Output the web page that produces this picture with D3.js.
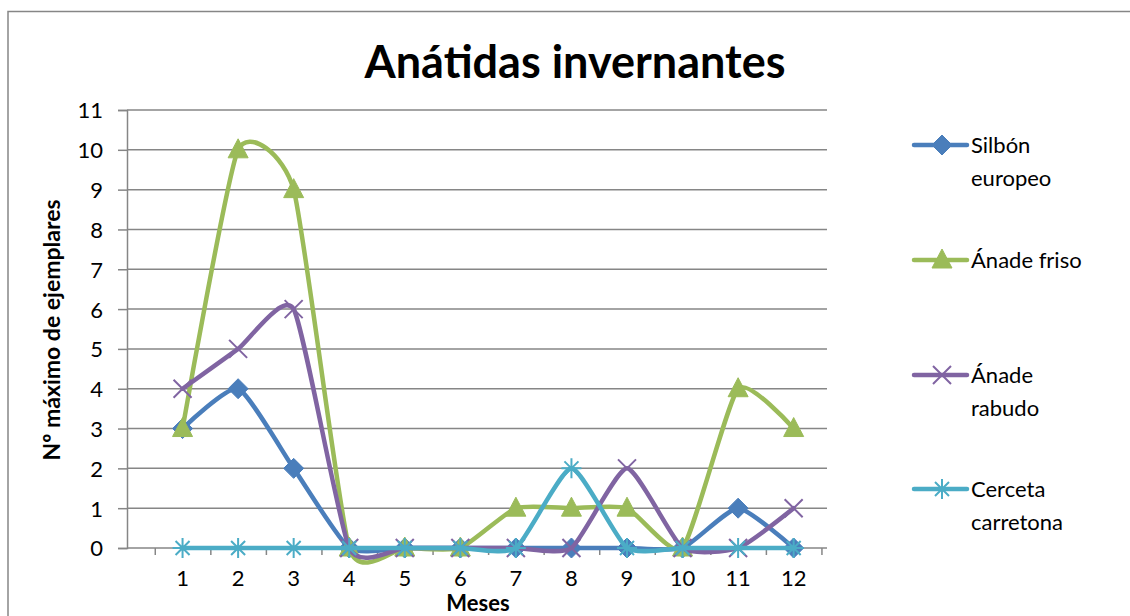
<!DOCTYPE html>
<html>
<head>
<meta charset="utf-8">
<script src="https://cdn.jsdelivr.net/npm/d3@7"></script>
<style>
  body { margin: 0; background: #fff; }
  text { font-family: Lato, "Open Sans", sans-serif; fill: #000; }
</style>
</head>
<body>
<script>
const width = 1130
const height = 616

// data
const months = [1, 2, 3, 4, 5, 6, 7, 8, 9, 10, 11, 12]
const silbon = [3, 4, 2, 0, 0, 0, 0, 0, 0, 0, 1, 0]
const friso = [3, 10, 9, 0, 0, 0, 1, 1, 1, 0, 4, 3]
const rabudo = [4, 5, 6, 0, 0, 0, 0, 0, 2, 0, 0, 1]
const cerceta = [0, 0, 0, 0, 0, 0, 0, 2, 0, 0, 0, 0]
const yTicks = d3.range(0, 12)

const series = [
    { name: ["Silbón", "europeo"], values: silbon, color: "#4a7ebb", marker: "diamond" },
    { name: ["Ánade friso"], values: friso, color: "#9bbb59", marker: "triangle" },
    { name: ["Ánade", "rabudo"], values: rabudo, color: "#8064a2", marker: "x" },
    { name: ["Cerceta", "carretona"], values: cerceta, color: "#4bacc6", marker: "star" }
]

const plot = { left: 127, right: 827, top: 110, bottom: 548 }

const svg = d3.select("body").append("svg")
    .attr("width", width)
    .attr("height", height)

// outer chart frame
svg.append("rect")
    .attr("x", 8).attr("y", 11.5)
    .attr("width", 1140).attr("height", 640)
    .attr("fill", "none").attr("stroke", "#868686").attr("stroke-width", 1.5)

const x = d3.scaleLinear().domain([0, 12.6]).range([plot.left, plot.right])
const y = d3.scaleLinear().domain([0, 11]).range([plot.bottom, plot.top])

// gridlines
svg.append("g")
    .selectAll("line")
    .data(yTicks.slice(1))
    .join("line")
    .attr("x1", plot.left).attr("x2", plot.right)
    .attr("y1", d => y(d)).attr("y2", d => y(d))
    .attr("stroke", "#868686").attr("stroke-width", 1.5)

// y axis
const yAxis = svg.append("g")
    .attr("transform", `translate(${plot.left},0)`)
    .call(d3.axisLeft(y).tickValues(yTicks).tickSize(9).tickPadding(6))
yAxis.select(".domain").attr("stroke", "#868686").attr("stroke-width", 1.5)
yAxis.selectAll(".tick line").attr("stroke", "#868686").attr("stroke-width", 1.5)
yAxis.selectAll(".tick text").style("font-size", "22px").attr("fill", "#000")
    .attr("x", -24).attr("dy", "0.36em")

// x axis: labels on months, ticks between them
const xAxis = svg.append("g")
    .attr("transform", `translate(0,${plot.bottom})`)
    .call(d3.axisBottom(x).tickValues(d3.range(0.5, 13, 1)).tickSize(7).tickFormat(""))
xAxis.select(".domain").attr("d", `M${plot.left},0H${plot.right}`)
    .attr("stroke", "#868686").attr("stroke-width", 1.5)
xAxis.selectAll(".tick line").attr("stroke", "#868686").attr("stroke-width", 1.5)

svg.append("g")
    .selectAll("text")
    .data(months)
    .join("text")
    .attr("x", d => x(d))
    .attr("y", plot.bottom + 38)
    .attr("text-anchor", "middle")
    .style("font-size", "22px")
    .text(d => d)

// lines
const line = d3.line()
    .x((d, i) => x(months[i]))
    .y(d => y(d))
    .curve(d3.curveCardinal.tension(0.45))

const markerPath = (type) => {
    if (type === "diamond") return "M0,-10L10,0L0,10L-10,0Z"
    if (type === "triangle") return "M0,-11L10,8L-10,8Z"
    if (type === "x") return "M-9,-9L9,9M-9,9L9,-9"
    return "M-10,0H10M0,-10V10M-7,-7L7,7M-7,7L7,-7"
}

const drawMarker = (g, s) => {
    const filled = s.marker === "diamond" || s.marker === "triangle"
    g.append("path")
        .attr("d", markerPath(s.marker))
        .attr("fill", filled ? s.color : "none")
        .attr("stroke", s.color)
        .attr("stroke-width", filled ? 1 : 2)
}

series.forEach(s => {
    const g = svg.append("g")
    g.append("path")
        .datum(s.values)
        .attr("d", line)
        .attr("fill", "none")
        .attr("stroke", s.color)
        .attr("stroke-width", 4.5)
        .attr("stroke-linecap", "round")
        .attr("stroke-linejoin", "round")
    s.values.forEach((v, i) => {
        const m = g.append("g").attr("transform", `translate(${x(months[i])},${y(v)})`)
        drawMarker(m, s)
    })
})

// legend
const legendY = [145, 260, 375, 489]
series.forEach((s, i) => {
    const g = svg.append("g").attr("transform", `translate(0,${legendY[i]})`)
    g.append("line")
        .attr("x1", 914).attr("x2", 967)
        .attr("stroke", s.color).attr("stroke-width", 4.5)
        .attr("stroke-linecap", "round")
    const m = g.append("g").attr("transform", "translate(942,0)")
    drawMarker(m, s)
    s.name.forEach((t, k) => {
        g.append("text")
            .attr("x", 971)
            .attr("y", k * 33 + 8)
            .style("font-size", "22px")
            .text(t)
    })
})

// titles
svg.append("text")
    .attr("x", 575).attr("y", 78)
    .attr("text-anchor", "middle")
    .style("font-size", "45px").style("font-weight", "bold")
    .text("Anátidas invernantes")

svg.append("text")
    .attr("transform", "translate(60,330) rotate(-90)")
    .attr("text-anchor", "middle")
    .style("font-size", "23px").style("font-weight", "bold")
    .text("Nº máximo de ejemplares")

svg.append("text")
    .attr("x", 478).attr("y", 611)
    .attr("text-anchor", "middle")
    .style("font-size", "22px").style("font-weight", "bold")
    .text("Meses")
</script>
</body>
</html>
